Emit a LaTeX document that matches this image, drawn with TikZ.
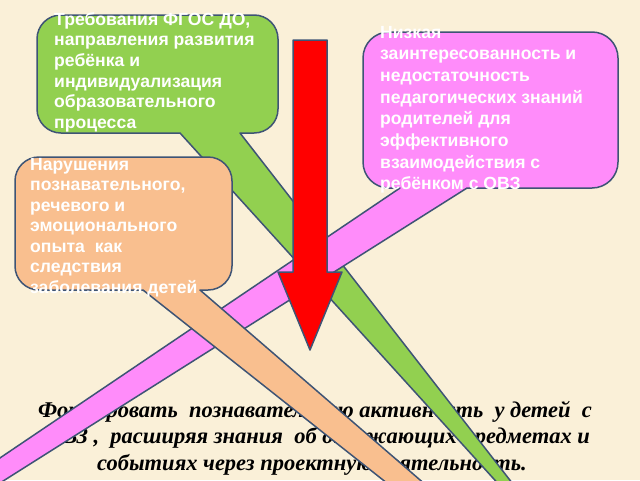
\documentclass[tikz,border=0pt]{standalone}
\usepackage{fontspec}
\setmainfont{Liberation Sans}
\newfontfamily\goalfont{Liberation Serif}
\definecolor{bg}{HTML}{FAF0D8}
\definecolor{edge}{HTML}{3E5475}
\definecolor{grn}{HTML}{92D050}
\definecolor{pnk}{HTML}{FF8CFA}
\definecolor{org}{HTML}{F9BF8F}
\definecolor{redc}{HTML}{FF0000}
\begin{document}
\begin{tikzpicture}[x=1pt,y=-1pt,
  callout/.style={draw=edge,line width=1.5pt,line join=round},
  btext/.style={anchor=base west,inner sep=0pt,text=white,font=\fontsize{17.6}{20}\selectfont\bfseries},
  gtext/.style={anchor=base,inner sep=0pt,text=black,font=\fontsize{22.5}{26}\selectfont\goalfont\bfseries\itshape}]
\useasboundingbox (0,0) rectangle (640,480);
\fill[bg] (0,0) rectangle (640,480);
\begin{scope}
\clip (0,0) rectangle (640,480);
% goal text
\node[gtext] (t1) at (315,417) {Формировать\ \ познавательную активность\ \ у детей\ \ с};
\node[gtext] (t2) at (318,443) {ОВЗ\ ,\ \ расширяя знания\ \ об окружающих предметах и};
\node[gtext] (t3) at (312,470) {событиях через проектную деятельность.};
% green callout
\path[callout,fill=grn] (180,133) -- (61,133) .. controls (47.7,133) and (37,122.3) .. (37,109) -- (37,39) .. controls (37,25.7) and (47.7,15) .. (61,15) -- (254,15) .. controls (267.3,15) and (278,25.7) .. (278,39) -- (278,109) .. controls (278,122.3) and (267.3,133) .. (254,133) -- (240,133) -- (600,596) -- cycle;
\foreach [count=\i] \t in {{Требования ФГОС ДО,},{направления развития},{ребёнка и},{индивидуализация},{образовательного},{процесса}}
  \node[btext] (g\i) at (54,{25+20.7*(\i-1)}) {\t};
% pink callout
\path[callout,fill=pnk] (467,188) -- (592,188) .. controls (606.4,188) and (618,176.4) .. (618,162) -- (618,58) .. controls (618,43.6) and (606.4,32) .. (592,32) -- (389,32) .. controls (374.6,32) and (363,43.6) .. (363,58) -- (363,162) .. controls (363,176.4) and (374.6,188) .. (389,188) -- (400,188) -- (-581,850) -- cycle;
\foreach [count=\i] \t in {{Низкая},{заинтересованность и},{недостаточность},{педагогических знаний},{родителей для},{эффективного},{взаимодействия с},{ребёнком с ОВЗ}}
  \node[btext] (p\i) at (380,{38+21.7*(\i-1)}) {\t};
% orange callout
\path[callout,fill=org] (143,290) -- (39,290) .. controls (25.7,290) and (15,279.3) .. (15,266) -- (15,181) .. controls (15,167.7) and (25.7,157) .. (39,157) -- (208,157) .. controls (221.3,157) and (232,167.7) .. (232,181) -- (232,266) .. controls (232,279.3) and (221.3,290) .. (208,290) -- (200,290) -- (829,833) -- cycle;
\foreach [count=\i] \t in {{Нарушения},{познавательного,},{речевого и},{эмоционального},{опыта\ \ как},{следствия},{заболевания детей}}
  \node[btext] (o\i) at (30,{170+20.5*(\i-1)}) {\t};
% red arrow
\path[callout,fill=redc] (293,40) -- (327,40) -- (327,272) -- (342,272) -- (310,350) -- (278,272) -- (293,272) -- cycle;
\end{scope}
\end{tikzpicture}
\end{document}
